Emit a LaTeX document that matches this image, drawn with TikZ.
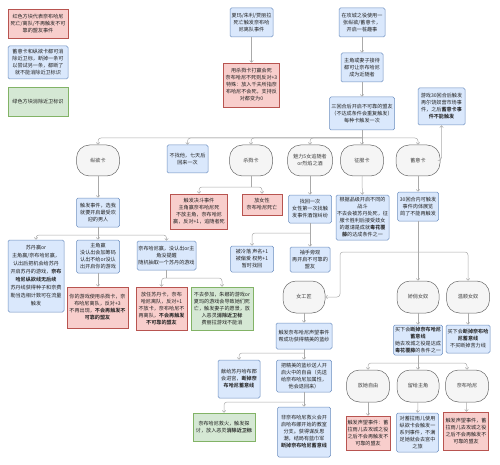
\documentclass[tikz,border=0pt]{standalone}
\usepackage{fontspec}
\setmainfont{Noto Sans CJK SC}[BoldFont={Noto Sans CJK SC Bold}]
\usetikzlibrary{arrows.meta}
\definecolor{bfill}{HTML}{DAE8FC}
\definecolor{bline}{HTML}{6C8EBF}
\definecolor{rfill}{HTML}{F8CECC}
\definecolor{rline}{HTML}{B85450}
\definecolor{gfill}{HTML}{D5E8D4}
\definecolor{gline}{HTML}{82B366}
\definecolor{tfill}{HTML}{F5F5F5}
\definecolor{tline}{HTML}{666666}
\definecolor{lc}{HTML}{AAAAAA}
\definecolor{txt}{HTML}{222222}
\newcommand\fsz{\fontsize{5.1}{7}\selectfont}
\newcommand\fszwide{\fontsize{5.1}{8}\selectfont}
\tikzset{
  base/.style={draw, line width=0.5pt, align=center, inner sep=1pt, font=\fsz, text=txt},
  bluebox/.style={base, fill=bfill, draw=bline, rounded corners=1.5pt},
  redbox/.style={base, fill=rfill, draw=rline},
  greenbox/.style={base, fill=gfill, draw=gline},
  term/.style={base, fill=tfill, draw=tline, rounded corners=13pt, text=black!75},
  wh/.style 2 args={minimum width=#1pt, minimum height=#2pt},
  conn/.style={draw=lc, line width=0.5pt, -{Straight Barb[length=2pt,width=3.5pt]}, rounded corners=3pt},
  plain/.style={draw=lc, line width=0.5pt},
}
\begin{document}
\begin{tikzpicture}[x=1pt,y=-1pt]
\useasboundingbox (0,0) rectangle (500,465);
% legend
\node[redbox, wh={60}{29}] (l1) at (38,23.5) {红色方块代表奈布哈尼\\死亡/离队/不再触发不可\\靠的盟友事件};
\node[bluebox, wh={60}{33}] (l2) at (38,62.5) {蓄意卡和纵欲卡都可消\\除近卫标，断掉一条可\\以尝试另一条，都断了\\就不能消除近卫标识};
\node[greenbox, wh={60}{29}] (l3) at (38,101.5) {绿色方块消除近卫标识};
% top
\node[bluebox, wh={43}{29}] (A) at (251.5,22.5) {夏玛/朱利/贾丽拉\\死亡触发奈布哈\\尼离队事件};
\node[redbox, wh={56}{44}] (B) at (251.5,85) {用杀戮卡打赢会死\\奈布哈尼不死则反对+3\\特殊：放入千夫所指奈\\布哈尼不会死，支持反\\对都变为0};
\node[bluebox, wh={46}{29}] (C) at (362,22.5) {在攻城之役使用一\\张纵欲/蓄意卡，\\开启一桩趣事};
\node[bluebox, wh={42}{29}] (D) at (362,67.5) {主角或妻子接待\\都可让奈布哈尼\\成为近随者};
\node[bluebox, wh={65}{33}] (E) at (362,113.5) {三回合后开启不可靠的盟友\\（不达成条件会重复触发）\\每种卡触发一次};
\node[bluebox, wh={47}{37}] (F) at (441.5,106.5) {游戏30回合后触发\\再尔饶奴营市场事\\件，之后\textbf{蓄意卡事}\\\textbf{件不能触发}};
% card row
\node[term, wh={43}{31}] (zy) at (98,160.5) {纵欲卡};
\node[bluebox, wh={41}{28}] (bz) at (187.5,159) {不找他，七天后\\回来一次};
\node[term, wh={43}{31}] (sl) at (251,160.5) {杀戮卡};
\node[term, wh={45}{31}] (ml) at (310,160.5) {魅力5女追随者\\or烈焰之酒};
\node[term, wh={43}{31}] (zf) at (362,160.5) {征服卡};
\node[term, wh={44}{31}] (xy) at (418,160.5) {蓄意卡};
% zongyu branch
\node[bluebox, wh={43}{29}] (G) at (98,212.5) {触发事件，选我\\就要开启最受欢\\迎的男人};
\node[bluebox, wh={56}{72}, font=\fszwide] (H) at (36,276) {苏丹赢or\\主角赢/奈布哈尼赢，\\认出后把机会给苏丹\\开启苏丹的游戏，\textbf{奈布}\\\textbf{哈尼纵欲线无后续}\\苏丹线获得种子和奈费\\勒当选相计数可在流量\\触发};
\node[bluebox, wh={43}{33}] (I) at (98,256.5) {主角赢\\没认出会加筹码\\认出不给or没认\\出开启你的游戏};
\node[bluebox, wh={59}{29}] (J) at (166.5,255.5) {奈布哈尼赢，没认出or主\\角没提醒\\随机抽取一个苏丹的游戏};
\node[redbox, wh={61}{41}] (K) at (97.5,307.5) {你的游戏使用杀戮卡，奈\\布哈尼离队，反对+3\\不再出现，\textbf{不会再触发不}\\\textbf{可靠的盟友}};
\node[redbox, wh={51}{43}] (L) at (161.5,308.5) {放任苏丹卡，奈布\\哈尼离队，反对+1\\不放卡，奈布哈尼不\\再离队，\textbf{不会再触发}\\\textbf{不可靠的盟友}};
\node[greenbox, wh={62}{43}] (M) at (222,308.5) {不去参加，朱娜的游戏or\\夏玛的游戏会导致她们死\\亡，触发妻子的愿景，放\\入恶灵\textbf{消除近卫标}\\费丽拉游戏不能消};
% shalu branch
\node[redbox, wh={57}{35}] (N) at (199,211.5) {触发决斗事件\\主角赢奈布哈尼死\\不放主角，奈布哈尼\\赢，反对+1，追随者死};
\node[redbox, wh={40}{21}] (O) at (262,204.5) {放女性\\奈布哈尼死亡};
% meili branch
\node[bluebox, wh={43}{28}] (P) at (310,209) {找回一次\\女性第一次找触\\发事件酒馆纠纷};
\node[bluebox, wh={43}{26}] (Q) at (252,259) {被冷落 声名+1\\被偏爱 权势+1\\暂时找回};
\node[bluebox, wh={40}{25}] (R) at (310,259.5) {袖手旁观\\再开启不可靠的\\盟友};
% zhengfu
\node[bluebox, wh={53}{45}] (S) at (362.5,217.5) {根据品级开启不同的\\战斗\\不去会被苏丹处死，征\\服卡胜利后接受妓女\\的邀请是成就\textbf{毒花覆}\\\textbf{藤}的达成条件之一};
% xuyi
\node[bluebox, wh={41}{29}] (T) at (418,206.5) {30回合内可触发\\事件肉体展览\\鸽了不能再触发};
\node[term, wh={42}{32}] (ngj) at (304,297) {女工匠};
\node[term, wh={42}{32}] (jq) at (418,297) {娇俏女奴};
\node[term, wh={43}{32}] (ws) at (468,297) {温顺女奴};
\node[bluebox, wh={56}{26}] (U) at (304,336) {触发奈布哈尼声望事件\\帮成功获得精美的蓝纱};
\node[bluebox, wh={42}{38}] (V) at (239,379) {献给苏丹哈布郡\\会进宫，\textbf{断掉奈}\\\textbf{布哈尼蓄意线}};
\node[bluebox, wh={55}{32}] (W) at (304,376) {把精美的蓝纱送人开\\启火中的自由（先送\\给奈布哈尼加属性，\\他会退回来）};
\node[greenbox, wh={62}{28}] (X) at (224,427) {奈布哈尼救火，触发探\\讨，放入恶灵\textbf{消除近卫标}};
\node[bluebox, wh={53}{50}] (Y) at (304,432) {非奈布哈尼救火会开\\启哈布娜开始的教室\\分支。获得谋反思\\潮，结局有蓝巾军\\\textbf{断掉奈布哈尼蓄意线}};
\node[bluebox, wh={49}{30}] (Z) at (418,340) {买下会\textbf{断掉奈布哈尼}\\\textbf{蓄意线}\\她去攻城之役是达成\\\textbf{毒花覆藤}的条件之一};
\node[bluebox, wh={44}{28}] (AA) at (468,339) {买下会\textbf{断掉奈布哈}\\\textbf{尼蓄意线}\\不买断掉苦力线};
\node[term, wh={43}{32}] (fz) at (368,386) {放她自由};
\node[term, wh={42}{32}] (lg) at (418,386) {留给主角};
\node[term, wh={43}{32}] (nb) at (467,386) {奈布哈尼};
\node[redbox, wh={44}{34}] (AB) at (368,433) {触发声望事件：蓄\\拉雨儿去攻城之役\\之后不会再触发不\\可靠的盟友};
\node[bluebox, wh={42}{39}] (AC) at (417.5,432.5) {对蓄拉雨儿使用\\纵欲卡会触发一\\系列事件，不满\\足她就会去宫中\\之旅};
\node[redbox, wh={45}{38}] (AD) at (466,431) {触发声望事件，蓄\\拉雨儿去攻城之役\\之后不会再触发不\\可靠的盟友};
% split coordinates
\coordinate (hub) at (362,138);
\coordinate (gs) at (98,235);
\coordinate (js) at (166.5,278);
\coordinate (ks) at (251,187);
\coordinate (ps) at (310,233);
\coordinate (ts) at (418,252);
\coordinate (tturn) at (340,252);
\coordinate (us) at (304,353);
\coordinate (ws2) at (304,402);
\coordinate (zs) at (418,363);
% connectors
\draw[conn] (A) -- (B);
\draw[conn] (C) -- (D);
\draw[conn] (D) -- (E);
\draw[plain] (E.south) -- (hub);
\draw[conn] (hub) -| (zy.north);
\draw[conn] (hub) -| (bz.north);
\draw[conn] (hub) -| (sl.north);
\draw[conn] (hub) -| (ml.north);
\draw[conn] (hub) -- (zf.north);
\draw[conn] (hub) -| (xy.north);
\draw[conn] (xy.east) -| (F.south);
\draw[conn] (zy) -- (G);
\draw[plain] (G.south) -- (gs);
\draw[conn] (gs) -| (H.north);
\draw[conn] (gs) -- (I.north);
\draw[conn] (gs) -| (J.north);
\draw[conn] (I) -- (I |- K.north);
\draw[plain] (J.south) -- (js);
\draw[conn] (js) -| (L.north);
\draw[conn] (js) -| (M.north);
\draw[plain] (sl.south) -- (ks);
\draw[conn] (ks) -| (N.north);
\draw[conn] (ks) -| (O.north);
\draw[conn] (ml) -- (P);
\draw[plain] (P.south) -- (ps);
\draw[conn] (ps) -| (Q.north);
\draw[conn] (ps) -- (R.north);
\draw[conn] (zf) -- (S);
\draw[conn] (xy) -- (T);
\draw[plain] (T.south) -- (ts);
\draw[conn] (ts) -- (tturn) |- (ngj.east);
\draw[conn] (ts) -- (jq.north);
\draw[conn] (ts) -| (ws.north);
\draw[conn] (ngj) -- (U);
\draw[plain] (U.south) -- (us);
\draw[conn] (us) -| (V.north);
\draw[conn] (us) -- (W.north);
\draw[plain] (W.south) -- (ws2);
\draw[conn] (ws2) -| (X.north);
\draw[conn] (ws2) -- (Y.north);
\draw[conn] (jq) -- (Z);
\draw[conn] (ws) -- (AA);
\draw[plain] (Z.south) -- (zs);
\draw[conn] (zs) -| (fz.north);
\draw[conn] (zs) -- (lg.north);
\draw[conn] (zs) -| (nb.north);
\draw[conn] (fz) -- (AB);
\draw[conn] (lg) -- (AC);
\draw[conn] (nb) -- (AD);
\end{tikzpicture}
\end{document}
